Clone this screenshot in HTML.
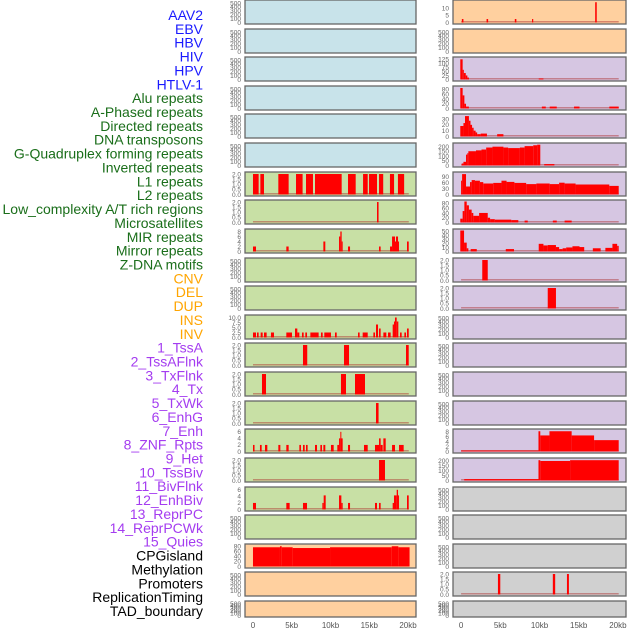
<!DOCTYPE html>
<html><head><meta charset="utf-8">
<style>
html,body{margin:0;padding:0;background:#fff;}
svg{display:block;}
.lab{font-family:"Liberation Sans",sans-serif;font-size:14px;}
.tk{font-family:"Liberation Sans",sans-serif;font-size:6.5px;fill:#666;}
.xt{font-family:"Liberation Sans",sans-serif;font-size:8px;fill:#555;}
</style></head>
<body>
<svg id="chart" width="630" height="630" viewBox="0 0 630 630" xmlns="http://www.w3.org/2000/svg">
<g id="labels"></g>
<g id="panels"></g>
<g id="xaxes"></g>
</svg>
<script>
// ---- data ----
const trackLabels = ["AAV2","EBV","HBV","HIV","HPV","HTLV-1","Alu repeats","A-Phased repeats","Directed repeats","DNA transposons","G-Quadruplex forming repeats","Inverted repeats","L1 repeats","L2 repeats","Low_complexity A/T rich regions","Microsatellites","MIR repeats","Mirror repeats","Z-DNA motifs","CNV","DEL","DUP","INS","INV","1_TssA","2_TssAFlnk","3_TxFlnk","4_Tx","5_TxWk","6_EnhG","7_Enh","8_ZNF_Rpts","9_Het","10_TssBiv","11_BivFlnk","12_EnhBiv","13_ReprPC","14_ReprPCWk","15_Quies","CPGisland","Methylation","Promoters","ReplicationTiming","TAD_boundary"];
const xTickValues = [0,5,10,15,20];
const xTickLabels = ["0","5kb","10kb","15kb","20kb"];

// segments: [start_kb, end_kb, value]
const segL7 = [[0,0.73,2],[0.95,1.42,2],[3.27,4.6,2],[5.55,6.4,2],[6.84,7.74,2],[8.0,11.44,2],[12.26,13.25,2],[14.2,14.8,2],[14.97,16.0,2],[16.26,16.8,2],[17.67,18.2,2],[18.7,19.5,2]];
const segL8 = [[16.0,16.2,2]];
const segL9 = [[0,0.39,2],[4.3,4.6,2],[9.08,9.33,4],[11.1,11.27,6],[11.27,11.44,8],[11.44,11.57,4],[12.26,12.52,2],[16.26,16.47,2],[17.68,17.94,2],[17.94,18.32,6],[18.32,18.45,4],[18.45,18.71,6],[18.71,18.84,4],[19.87,20.09,4]];
const segL12 = [[0,0.39,2.5],[0.52,0.73,2.5],[0.99,1.25,2.5],[1.42,1.76,2.5],[2.32,2.71,2.5],[4.3,5.03,2.5],[5.42,5.72,4.5],[5.72,5.98,2.5],[6.32,6.54,2.5],[6.75,6.97,2.5],[7.4,8.47,2.5],[8.77,8.99,2.5],[9.2,10.06,2.5],[10.58,10.8,2.5],[13.55,13.76,2.5],[14.15,14.8,2.5],[15.53,15.74,2.5],[15.87,16.13,6.5],[16.26,16.47,4.5],[16.82,17.2,2.5],[17.42,17.76,2.5],[18.02,18.19,6.5],[18.19,18.32,8],[18.32,18.54,10],[18.54,18.75,8],[18.97,19.18,2.5],[19.53,19.74,2.5],[19.87,20.09,4.5]];
const segL13 = [[6.45,7.0,2],[11.74,12.39,2],[19.74,20.09,2]];
const segL14 = [[1.16,1.68,2],[11.35,12.0,2],[13.16,14.45,2]];
const segL15 = [[15.87,16.2,2]];
const segL16 = [[0,0.2,2],[0.9,1.12,2],[1.55,1.85,2],[3.27,3.53,2],[4.3,4.6,2],[5.98,6.19,2],[6.45,6.67,2],[6.84,7.05,2],[8.0,8.26,2],[8.69,8.9,2],[9.08,9.33,2],[10.06,10.41,2],[10.88,11.1,2],[11.1,11.27,4],[11.27,11.35,6],[11.35,11.57,4],[12.26,12.52,2],[14.32,14.8,2],[15.74,16.26,2],[16.26,16.47,4],[16.47,16.73,2],[16.82,17.12,4],[17.94,18.32,2],[18.84,19.44,2]];
const segL17 = [[16.26,17.03,2]];
const segL18 = [[0,0.39,2],[4.3,4.73,2],[6.45,6.97,2],[8.95,9.12,2],[9.12,9.38,4.3],[11.1,11.4,4.3],[11.4,11.57,2],[12.26,12.52,2],[15.74,16.0,2],[16.26,16.47,2],[18.02,18.19,2],[18.19,18.54,4.3],[18.54,18.71,6],[18.71,18.84,4.3],[19.87,20.09,4.3]];
const segL20 = [[0,3.48,76],[3.48,3.7,80],[3.7,5.12,76],[5.12,9.94,73],[9.94,17.9,76],[17.9,18.75,80],[18.75,20.2,76]];
const segR1 = [[0.1,0.3,2.4],[3.25,3.45,2.4],[6.85,7.05,2.4],[9.05,9.2,2.4],[17.1,17.3,14]];
const segR3 = [[-0.1,0.2,125],[0.2,0.35,60],[0.35,0.6,40],[0.6,0.8,25],[0.8,1.0,12],[9.9,10.5,6]];
const segR4 = [[-0.1,0.2,86],[0.2,0.42,55],[0.42,0.63,20],[0.63,1.0,8],[10.3,10.8,8],[11.3,12.2,8],[14.4,15.1,8],[18.9,20.1,8]];
const segR5 = [[-0.1,0.3,18],[0.3,0.5,23],[0.5,1.0,35],[1.0,1.2,27],[1.2,1.4,20],[1.4,1.6,15],[1.6,1.85,10],[1.85,2.05,7],[2.05,2.5,4],[2.5,3.3,5],[4.6,5.4,4]];
const segR6 = [[0.08,0.3,21],[0.3,0.63,39],[0.63,0.8,115],[0.8,0.93,130],[0.93,1.9,151],[1.9,2.6,160],[2.6,3.2,169],[3.2,4.0,190],[4.0,5.4,199],[5.4,6.0,190],[6.0,7.5,184],[7.5,8.1,190],[8.1,9.2,205],[9.2,9.7,214],[9.7,10.1,220],[10.6,11.9,15]];
const segR7 = [[0,0.13,69],[0.13,0.63,102],[0.63,1.14,40],[1.14,1.35,62],[1.35,1.77,72],[1.77,2.4,69],[2.4,2.83,62],[2.83,4.1,55],[4.1,5.15,58],[5.15,5.8,69],[5.8,6.8,63],[6.8,8.3,58],[8.3,9.6,52],[9.6,11.3,55],[11.3,12.5,52],[12.5,13.2,59],[13.2,14.6,55],[14.6,18.9,50],[18.9,20.1,43]];
const segR8 = [[-0.1,0.2,16],[0.2,0.42,48],[0.42,0.72,88],[0.72,1.0,72],[1.0,1.35,54],[1.35,1.56,40],[1.56,2.3,28],[2.3,3.4,40],[3.4,3.7,20],[3.7,4.3,14],[4.3,6.4,12],[6.4,7.3,10],[8.1,8.5,8],[11.7,12.2,8],[13.2,14.1,8]];
const segR9 = [[-0.1,0.38,52],[0.38,0.72,22],[0.72,0.93,8],[1.22,2.0,6],[5.7,6.75,6],[9.9,10.5,19],[10.5,11.05,15],[11.05,12.1,16],[12.1,12.5,11],[12.5,12.95,6],[12.95,13.4,8],[13.4,14.2,10],[14.2,15.1,13],[15.1,15.7,11],[16.8,17.8,8],[18.4,19.3,9],[19.3,19.9,19],[19.9,20.1,14]];
const segR10 = [[2.7,3.4,2]];
const segR11 = [[11.05,12.1,2]];
const segR16 = [[0,9.87,0.4],[9.87,10.1,8.2],[10.1,11.27,6.5],[11.27,14.1,8.2],[14.1,16.96,6.5],[16.96,20.1,4.6]];
const segR17 = [[0.4,9.87,14],[9.87,10.1,205],[10.1,13.9,197],[13.9,20.1,205]];
const segR21 = [[4.7,5.0,2],[11.7,12.0,2],[13.5,13.75,2]];

const ticksEmpty = [0,100,200,300,400,500];
const ticks2 = [0,0.5,1,1.5,2];

// layout
const colX = [[245,416],[453,626]];
const domain = [-1.03,21.03];
const rowTop = i => Math.round(i*28.62);
const C = {blue:"#c8e3ea",green:"#c8e0a5",orange:"#ffd09f",purple:"#d6c6e2",gray:"#d0d0d0"};

// panel spec: [col,row,color,segs,ymax,ticks,tickDecimals]
const panels = [];
for(let r=0;r<6;r++) panels.push([0,r,"blue",null,540,ticksEmpty,0]);
panels.push([0,6,"green",segL7,2.05,ticks2,1]);
panels.push([0,7,"green",segL8,2.05,ticks2,1]);
panels.push([0,8,"green",segL9,8.4,[0,2,4,6,8],0]);
panels.push([0,9,"green",null,540,ticksEmpty,0]);
panels.push([0,10,"green",null,540,ticksEmpty,0]);
panels.push([0,11,"green",segL12,10.5,[0,2.5,5,7.5,10],1]);
panels.push([0,12,"green",segL13,2.05,ticks2,1]);
panels.push([0,13,"green",segL14,2.05,ticks2,1]);
panels.push([0,14,"green",segL15,2.05,ticks2,1]);
panels.push([0,15,"green",segL16,6.4,[0,2,4,6],0]);
panels.push([0,16,"green",segL17,2.05,ticks2,1]);
panels.push([0,17,"green",segL18,6.4,[0,2,4,6],0]);
panels.push([0,18,"green",null,540,ticksEmpty,0]);
panels.push([0,19,"orange",segL20,83,[0,20,40,60,80],0]);
panels.push([0,20,"orange",null,540,ticksEmpty,0]);
panels.push([0,21,"orange",null,540,ticksEmpty,0]);
panels.push([1,0,"orange",segR1,14.5,[0,5,10],0]);
panels.push([1,1,"orange",null,540,ticksEmpty,0]);
panels.push([1,2,"purple",segR3,130,[0,25,50,75,100,125],0]);
panels.push([1,3,"purple",segR4,88,[0,20,40,60,80],0]);
panels.push([1,4,"purple",segR5,36,[0,10,20,30],0]);
panels.push([1,5,"purple",segR6,222,[0,50,100,150,200],0]);
panels.push([1,6,"purple",segR7,105,[0,30,60,90],0]);
panels.push([1,7,"purple",segR8,88,[0,20,40,60,80],0]);
panels.push([1,8,"purple",segR9,52,[0,10,20,30,40,50],0]);
panels.push([1,9,"purple",segR10,2.05,ticks2,1]);
panels.push([1,10,"purple",segR11,2.05,ticks2,1]);
for(let r=11;r<15;r++) panels.push([1,r,"purple",null,540,ticksEmpty,0]);
panels.push([1,15,"purple",segR16,8.5,[0,2,4,6,8],0]);
panels.push([1,16,"purple",segR17,212,[0,50,100,150,200],0]);
for(let r=17;r<20;r++) panels.push([1,r,"gray",null,540,ticksEmpty,0]);
panels.push([1,20,"gray",segR21,2.05,ticks2,1]);
panels.push([1,21,"gray",null,540,ticksEmpty,0]);

const NS="http://www.w3.org/2000/svg";
function mk(tag,attrs,parent){const e=document.createElementNS(NS,tag);for(const k in attrs)e.setAttribute(k,attrs[k]);parent.appendChild(e);return e;}

// labels
const labG=document.getElementById("labels");
trackLabels.forEach((t,i)=>{
  let col = i<6?"#1a1aff": i<19?"#1a6e1a": i<24?"#ffa500": i<39?"#a43cf0":"#000";
  const el=mk("text",{x:203,y:(15+i*13.86+5).toFixed(1),"text-anchor":"end",class:"lab",fill:col},labG);
  el.textContent=t;
  
  
});

const pg=document.getElementById("panels");
panels.forEach(p=>{
  const [c,r,color,segs,ymax,ticks,dec]=p;
  const x0=colX[c][0], x1=colX[c][1];
  const top=rowTop(r);
  const h = r===21?16:24;
  const xs = v => x0 + (v-domain[0])/(domain[1]-domain[0])*(x1-x0);
  const bot = top+h-1.5, inner=h-3;
  const ys = v => bot - v/ymax*inner;
  const g=mk("g",{},pg);
  
  
  const bg=mk("rect",{x:x0,y:top,width:x1-x0,height:h,fill:C[color],stroke:"#666","stroke-width":1.3},g);
  
  
  if(segs){
    const bl=mk("rect",{x:xs(0),y:bot-1.5,width:xs(20.1)-xs(0),height:1.5,fill:"rgba(170,40,40,0.45)"},g);
    
    
    segs.forEach(s=>{
      const y=ys(s[2]);
      const b=mk("rect",{x:xs(s[0]).toFixed(2),y:y.toFixed(2),width:Math.max(1,xs(s[1])-xs(s[0])).toFixed(2),height:(bot-y).toFixed(2),fill:"#ff0000"},g);
      
      
    });
  }
  ticks.forEach(t=>{
    const yy = Math.min(ys(t), top+h-1);
    const tl=mk("text",{x:x0-4,y:(yy+2.3).toFixed(1),"text-anchor":"end",class:"tk"},g);
    tl.textContent = dec? t.toFixed(dec): String(t);
    
    
  });
});

const xg=document.getElementById("xaxes");
colX.forEach(cx=>{
  const xs = v => cx[0] + (v-domain[0])/(domain[1]-domain[0])*(cx[1]-cx[0]);
  xTickValues.forEach((v,i)=>{
    const t=mk("text",{x:xs(v).toFixed(1),y:628,"text-anchor":"middle",class:"xt"},xg);
    t.textContent=xTickLabels[i];
    
    
  });
});
</script>
</body></html>
